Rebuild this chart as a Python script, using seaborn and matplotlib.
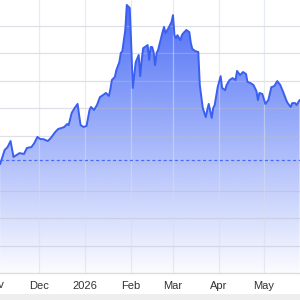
import numpy as np
import pandas as pd
import matplotlib
matplotlib.use("Agg")
import matplotlib.pyplot as plt
import matplotlib.dates as mdates
from matplotlib.transforms import blended_transform_factory
import seaborn as sns

dates = [
    "2025-11-05", "2025-11-08", "2025-11-10", "2025-11-12", "2025-11-14", "2025-11-16",
    "2025-11-18", "2025-11-21", "2025-11-23", "2025-11-26", "2025-11-28", "2025-11-30",
    "2025-12-02", "2025-12-04", "2025-12-07", "2025-12-09", "2025-12-12", "2025-12-14",
    "2025-12-16", "2025-12-18", "2025-12-20", "2025-12-21", "2025-12-23", "2025-12-25",
    "2025-12-27", "2025-12-28", "2025-12-29", "2025-12-31",
    "2026-01-02", "2026-01-04", "2026-01-05", "2026-01-07", "2026-01-09", "2026-01-11",
    "2026-01-13", "2026-01-15", "2026-01-17", "2026-01-18", "2026-01-19", "2026-01-21",
    "2026-01-22", "2026-01-24", "2026-01-25", "2026-01-26", "2026-01-28", "2026-01-29",
    "2026-01-31", "2026-02-01", "2026-02-02", "2026-02-04", "2026-02-06", "2026-02-07",
    "2026-02-08", "2026-02-09", "2026-02-11", "2026-02-12", "2026-02-13", "2026-02-14",
    "2026-02-15", "2026-02-16", "2026-02-17", "2026-02-18", "2026-02-19", "2026-02-22",
    "2026-02-23", "2026-02-24", "2026-02-26", "2026-02-28",
    "2026-03-01", "2026-03-02", "2026-03-03", "2026-03-04", "2026-03-06", "2026-03-07",
    "2026-03-08", "2026-03-10", "2026-03-12", "2026-03-13", "2026-03-14", "2026-03-16",
    "2026-03-18", "2026-03-19", "2026-03-21", "2026-03-23", "2026-03-24", "2026-03-25",
    "2026-03-27", "2026-03-28", "2026-03-29", "2026-03-31",
    "2026-04-02", "2026-04-03", "2026-04-05", "2026-04-06", "2026-04-08", "2026-04-10",
    "2026-04-12", "2026-04-13", "2026-04-15", "2026-04-17", "2026-04-19", "2026-04-20",
    "2026-04-22", "2026-04-24", "2026-04-26", "2026-04-27", "2026-04-28", "2026-04-30",
    "2026-05-02", "2026-05-04", "2026-05-06", "2026-05-08", "2026-05-10", "2026-05-12",
    "2026-05-14", "2026-05-16", "2026-05-17", "2026-05-19", "2026-05-20", "2026-05-22",
    "2026-05-23", "2026-05-25",
]
values = [
    39.6, 44.7, 45.8, 48.0, 42.2, 42.9,
    43.6, 43.3, 45.5, 45.8, 47.3, 49.5,
    48.7, 48.7, 48.0, 49.1, 51.3, 52.4,
    52.7, 53.1, 54.2, 53.8, 58.2, 60.0,
    61.5, 57.5, 53.8, 53.1,
    53.5, 59.3, 60.4, 59.3, 61.1, 64.0,
    64.7, 65.5, 64.4, 66.9, 70.2, 71.3,
    73.8, 76.7, 80.0, 80.7, 88.4, 97.5,
    96.4, 82.9, 67.3, 76.7, 79.3, 71.6,
    77.5, 81.8, 82.5, 82.9, 77.5, 82.2,
    82.2, 80.4, 75.6, 80.0, 81.1, 87.6,
    89.5, 87.3, 89.1, 91.3,
    93.8, 86.5, 85.5, 86.5, 84.7, 86.5,
    87.3, 88.4, 87.6, 83.6, 81.5, 80.7,
    80.4, 68.4, 60.0, 56.7, 59.3, 61.5,
    56.4, 60.0, 61.1, 67.6,
    71.6, 67.3, 66.5, 68.4, 70.2, 70.9,
    70.2, 73.5, 72.0, 73.1, 72.4, 69.5,
    69.1, 68.4, 66.2, 62.9, 65.5, 65.1,
    61.5, 62.9, 67.6, 68.0, 69.8, 68.4,
    65.8, 62.9, 61.8, 60.4, 61.8, 61.8,
    61.1, 62.9,
]
reference_value = 41.1
month_ticks = ["2025-11-01", "2025-12-01", "2026-01-01", "2026-02-01",
               "2026-03-01", "2026-04-01", "2026-05-01"]
month_labels = ["Nov", "Dec", "2026", "Feb", "Mar", "Apr", "May"]

df = pd.DataFrame({"date": pd.to_datetime(dates), "value": values})

sns.set_style("white")
plt.rcParams["font.family"] = ["Liberation Sans", "DejaVu Sans"]

fig = plt.figure(figsize=(3, 3), dpi=100)
fig.patch.set_facecolor("white")
# bottom grey strip
fig.add_artist(plt.Rectangle((0, 0), 1, 0.02, transform=fig.transFigure,
                             facecolor="#eeeeee", edgecolor="none"))
ax = fig.add_axes([0, 0.09, 1, 0.91])

xmin = pd.Timestamp("2025-11-04 22:00")
xmax = pd.Timestamp("2026-05-25 06:00")
ymax = 99.3
ax.set_xlim(xmin, xmax)
ax.set_ylim(0, ymax)

# gradient fill
x_num = mdates.date2num(df["date"])
poly = ax.fill_between(df["date"], df["value"], 0, facecolor="none", edgecolor="none")
grad = np.zeros((256, 1, 4))
t = np.linspace(0, 1, 256)[:, None]  # 0 bottom -> 1 top
base = np.array([62, 98, 245]) / 255.0
grad[..., 0] = base[0]
grad[..., 1] = base[1]
grad[..., 2] = base[2]
grad[..., 3] = 0.02 + 0.93 * t
im = ax.imshow(grad, aspect="auto", origin="lower",
               extent=[mdates.date2num(xmin), mdates.date2num(xmax), 0, ymax],
               zorder=1)
path = poly.get_paths()[0]
im.set_clip_path(path, transform=ax.transData)
ax.set_xlim(xmin, xmax)
ax.set_ylim(0, ymax)

sns.lineplot(data=df, x="date", y="value", ax=ax, color="#3b5ff0",
             linewidth=1.4, zorder=3)

ax.axhline(reference_value, color="#4a6cf7", linewidth=0.9,
           linestyle=(0, (2.5, 2)), zorder=4)

# grid
for v in np.arange(10, ymax, 10):
    ax.axhline(v, color="#b8bcc8", alpha=0.45, linewidth=0.9, zorder=2)
for d in month_ticks[1:]:
    ax.axvline(pd.Timestamp(d), color="#d5deea", alpha=0.55, linewidth=0.9, zorder=2)

tick_dates = [pd.Timestamp(d) for d in month_ticks]
ax.set_xticks(tick_dates[1:])
ax.set_xticklabels(month_labels[1:])
ax.tick_params(axis="x", length=0, pad=6, labelsize=8, labelcolor="#333333")
ax.set_yticks([])
ax.set_xlabel("")
ax.set_ylabel("")
trans = blended_transform_factory(ax.transData, ax.transAxes)
ax.text(tick_dates[0], -0.045, month_labels[0], transform=trans, ha="center",
        va="center", fontsize=8, color="#333333", clip_on=False)

for s in ["top", "left", "right"]:
    ax.spines[s].set_visible(False)
ax.spines["bottom"].set_color("#dddddd")
ax.spines["bottom"].set_linewidth(1.0)

fig.savefig("out.png", dpi=100)
